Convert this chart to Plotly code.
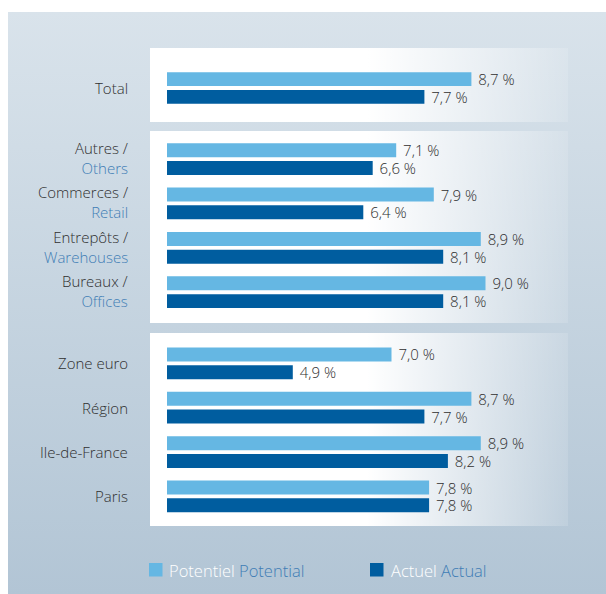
import plotly.graph_objects as go

# ---------------- data ----------------
labels_fr = ["Total", "Autres /", "Commerces /", "Entrepôts /", "Bureaux /",
             "Zone euro", "Région", "Ile-de-France", "Paris"]
labels_en = ["", "Others", "Retail", "Warehouses", "Offices", "", "", "", ""]
group_sizes = [1, 4, 4]
potentiel = [8.7, 7.1, 7.9, 8.9, 9.0, 7.0, 8.7, 8.9, 7.8]
actuel = [7.7, 6.6, 6.4, 8.1, 8.1, 4.9, 7.7, 8.2, 7.8]
legend_fr = ["Potentiel", "Actuel"]
legend_en = ["Potential", "Actual"]

# ---------------- style ----------------
W, H = 606, 594
C_LIGHT = "#65b7e3"
C_DARK = "#005d9f"
C_EN = "#3f7db5"
C_TXT = "#2f2f2f"
FONT = "Open Sans"
GROUP_GAP = 0.6

# row positions (units of one row) with extra gap between groups
rows = []
pos = 0.0
for gi, n in enumerate(group_sizes):
    for k in range(n):
        rows.append(pos)
        pos += 1.0
    pos += GROUP_GAP

# pixel mapping of the row axis: y_px = 88 + 44.4 * u
ROW_PX0, ROW_PX = 88.0, 44.4
y2_range = [(H - ROW_PX0) / ROW_PX, -ROW_PX0 / ROW_PX]
# value axis: x_px = 62.5 + 47 * v
VAL_PX0, VAL_PX = 62.5, 47.0
X_LEFT = 167
x2_range = [(X_LEFT - VAL_PX0) / VAL_PX, (W - VAL_PX0) / VAL_PX]

def fmt(v):
    return "\u00a0" + f"{v:.1f}".replace(".", ",") + " %"

fig = go.Figure()

# ---- background (pixel coordinate subplot x/y) ----
fig.add_trace(go.Scatter(
    x=[8, W, W, 8, 8], y=[12, 12, H, H, 12], fill="toself", mode="none",
    fillgradient=dict(type="vertical", start=12, stop=H,
                      colorscale=[[0, "#d9e3eb"], [1, "#b2c5d5"]]),
    hoverinfo="skip", showlegend=False, xaxis="x", yaxis="y"))

boxes = [(48, 122), (131, 323), (333, 526)]
for (t, b) in boxes:
    fig.add_trace(go.Scatter(
        x=[150, 568, 568, 150, 150], y=[t, t, b, b, t], fill="toself", mode="none",
        fillgradient=dict(type="horizontal", start=150, stop=568,
                          colorscale=[[0, "rgba(255,255,255,1)"],
                                      [0.52, "rgba(255,255,255,1)"],
                                      [1, "rgba(255,255,255,0.12)"]]),
        hoverinfo="skip", showlegend=False, xaxis="x", yaxis="y"))

# ---- bars ----
BW = 0.315
fig.add_trace(go.Bar(
    name="Potentiel Potential", orientation="h", x=potentiel, y=rows,
    width=BW, offset=-0.3575, marker=dict(color=C_LIGHT, line=dict(width=0)),
    text=[fmt(v) for v in potentiel], textposition="outside",
    constraintext="none", cliponaxis=False,
    textfont=dict(family=FONT, size=15, color=C_TXT, weight=300),
    showlegend=False, xaxis="x2", yaxis="y2"))
fig.add_trace(go.Bar(
    name="Actuel Actual", orientation="h", x=actuel, y=rows,
    width=BW, offset=0.0425, marker=dict(color=C_DARK, line=dict(width=0)),
    text=[fmt(v) for v in actuel], textposition="outside",
    constraintext="none", cliponaxis=False,
    textfont=dict(family=FONT, size=15, color=C_TXT, weight=300),
    showlegend=False, xaxis="x2", yaxis="y2"))

annotations = []
LABEL_X = 129.5 / W
for fr, en, r in zip(labels_fr, labels_en, rows):
    txt = fr if not en else f"{fr}<br><span style='color:{C_EN}'>{en}</span>"
    annotations.append(dict(x=LABEL_X, xref="paper", y=r, yref="y2", text=txt,
                            xanchor="right", yanchor="middle", align="right",
                            yshift=1 if en else 0, showarrow=False,
                            font=dict(family=FONT, size=15, color=C_TXT, weight=300)))

# ---- legend (manual) ----
shapes = []
leg_items = [(149, 167, C_LIGHT), (370, 389, C_DARK)]
for (sx, tx, col), fr, en in zip(leg_items, legend_fr, legend_en):
    shapes.append(dict(type="rect", xref="x", yref="y", x0=sx, x1=sx + 13.5, y0=563, y1=576.5,
                       fillcolor=col, line=dict(width=0), layer="above"))
    annotations.append(dict(x=tx, xref="x", y=570, yref="y",
                            text=f"<span style='color:#ffffff'>{fr}</span> <span style='color:{C_EN}'>{en}</span>",
                            xanchor="left", yanchor="middle", showarrow=False,
                            font=dict(family=FONT, size=16.5, color="#ffffff", weight=300)))

fig.update_layout(
    width=W, height=H, margin=dict(l=0, r=0, t=0, b=0),
    paper_bgcolor="white", plot_bgcolor="rgba(0,0,0,0)",
    barmode="overlay", showlegend=False,
    xaxis=dict(domain=[0, 1], range=[0, W], visible=False, fixedrange=True),
    yaxis=dict(domain=[0, 1], range=[H, 0], visible=False, fixedrange=True),
    xaxis2=dict(domain=[X_LEFT / W, 1], range=x2_range, visible=False, anchor="y2"),
    yaxis2=dict(domain=[0, 1], range=y2_range, visible=False, anchor="x2"),
    annotations=annotations, shapes=shapes,
    font=dict(family=FONT),
)

fig.write_html("out.html")
